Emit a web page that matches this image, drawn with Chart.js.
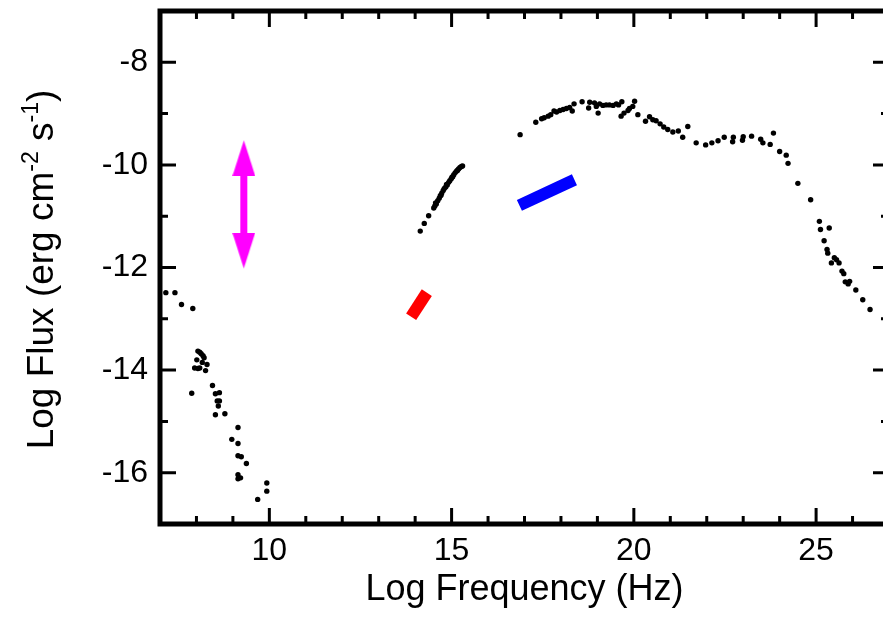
<!DOCTYPE html>
<html>
<head>
<meta charset="utf-8">
<script src="https://cdn.jsdelivr.net/npm/chart.js@4.4.1/dist/chart.umd.min.js"></script>
<style>
  html, body { margin: 0; padding: 0; background: #fff; overflow: hidden; }
  #wrap { width: 900px; height: 642px; position: relative; }
</style>
</head>
<body>
<div id="wrap"><canvas id="sed"></canvas></div>
<script>
// radio / mm points (log nu, log flux)
const radioPts = [
  [7.16,-12.49],[7.41,-12.49],[7.59,-12.72],[7.90,-12.80],
  [8.04,-13.63],[8.09,-13.65],[8.13,-13.68],[8.18,-13.72],[8.21,-13.76],
  [8.01,-13.80],[8.16,-13.85],[8.29,-13.89],[7.95,-13.96],[8.04,-13.97],
  [8.09,-13.96],[8.25,-14.01],[7.87,-14.45],[8.44,-14.30],[8.52,-14.46],
  [8.63,-14.44],[8.57,-14.60],[8.63,-14.60],[8.60,-14.70],[8.52,-14.87],
  [8.78,-14.85],[9.14,-15.12],[8.97,-15.35],[9.14,-15.43],[9.14,-15.67],
  [9.23,-15.69],[9.37,-15.82],[9.14,-16.04],[9.14,-16.12],[9.21,-16.10],
  [9.93,-16.20],[9.93,-16.36],[9.68,-16.52]
];
// optical / UV
const opticalPts = [
  [14.14,-11.29],[14.25,-11.14],[14.37,-10.99],[14.51,-10.84],[14.54,-10.80],
  [14.58,-10.76],[14.62,-10.70],[14.66,-10.65],[14.69,-10.60],[14.73,-10.55],
  [14.77,-10.50],[14.80,-10.46],[14.84,-10.43],[14.88,-10.39],[14.92,-10.34],
  [14.95,-10.31],[14.99,-10.27],[15.03,-10.23],[15.06,-10.19],[15.10,-10.15],
  [15.14,-10.12],[15.19,-10.08],[15.23,-10.05],[15.27,-10.03],[15.30,-10.02],
  [14.56,-10.74],[14.71,-10.59],[14.86,-10.38],[15.01,-10.24],[15.16,-10.11]
];
// X-ray / gamma-ray
const highPts = [
  [16.88,-9.41],[17.31,-9.17],[17.47,-9.10],[17.54,-9.08],[17.65,-9.05],
  [17.72,-9.02],[17.81,-8.95],[17.88,-8.97],[17.97,-8.94],[18.06,-8.92],
  [18.15,-8.90],[18.24,-8.88],[18.31,-8.95],[18.36,-8.81],[18.58,-8.77],
  [18.76,-8.89],[18.79,-8.78],[18.92,-8.79],[18.97,-8.86],[19.02,-8.99],
  [19.06,-8.81],[19.15,-8.84],[19.24,-8.83],[19.33,-8.83],[19.43,-8.84],
  [19.52,-8.81],[19.58,-8.83],[19.67,-8.77],[19.65,-9.05],[19.73,-8.99],
  [19.84,-8.94],[19.88,-8.90],[19.97,-8.86],[20.02,-8.76],[20.11,-9.02],
  [20.32,-9.15],[20.43,-9.06],[20.52,-9.12],[20.61,-9.14],[20.72,-9.20],
  [20.82,-9.26],[20.93,-9.31],[21.07,-9.36],[21.22,-9.34],[21.34,-9.46],
  [21.48,-9.25],[21.71,-9.57],[21.97,-9.61],[22.14,-9.57],[22.31,-9.53],
  [22.48,-9.46],[22.71,-9.55],[22.73,-9.46],[22.98,-9.52],[23.00,-9.45],
  [23.23,-9.44],[23.48,-9.50],[23.54,-9.57],[23.74,-9.60],[23.83,-9.38],
  [24.00,-9.74],[24.18,-9.81],[24.23,-9.97],[24.50,-10.36],[24.85,-10.68],
  [25.09,-11.10],[25.12,-11.26],[25.36,-11.23],[25.22,-11.48],[25.30,-11.65],
  [25.32,-11.72],[25.42,-11.91],[25.50,-11.81],[25.56,-11.85],[25.63,-11.91],
  [25.71,-12.07],[25.76,-12.12],[25.80,-12.28],[25.88,-12.32],[25.92,-12.27],
  [26.09,-12.44],[26.28,-12.63],[26.48,-12.82]
];
// spectral slopes (start, end)
const irSlope = [[13.89,-12.96],[14.32,-12.49]];
const xraySlope = [[16.86,-10.79],[18.37,-10.29]];
// variability range arrow at log nu = 9.3
const arrowShaft = [[9.30,-10.15],[9.30,-11.38]];
const arrowTips = [[9.30,-9.52],[9.30,-12.02]];

const xTickLabels = [10, 15, 20, 25];
const yTickLabels = [-8, -10, -12, -14, -16];

const toXY = pts => pts.map(p => ({ x: p[0], y: p[1] }));
const FONT = "'Liberation Sans', Arial, sans-serif";

// arrow head image, tip sits at the image centre
function arrowHead(w, h, color) {
  const c = document.createElement("canvas");
  c.width = w; c.height = h * 2;
  const g = c.getContext("2d");
  g.fillStyle = color;
  g.beginPath();
  g.moveTo(w / 2, h);
  g.lineTo(w, h * 2);
  g.lineTo(0, h * 2);
  g.closePath();
  g.fill();
  return c;
}
const headImg = arrowHead(23, 36, "#ff00ff");

const frame = {
  id: "frame",
  afterDraw(chart) {
    const { ctx, chartArea: a, scales: { x, y } } = chart;
    ctx.save();
    ctx.strokeStyle = "#000";
    ctx.lineWidth = 3;
    ctx.beginPath();
    x.ticks.forEach(t => {
      const px = x.getPixelForValue(t.value);
      const len = xTickLabels.includes(t.value) ? 16 : 8;
      ctx.moveTo(px, a.bottom); ctx.lineTo(px, a.bottom - len);
      ctx.moveTo(px, a.top); ctx.lineTo(px, a.top + len);
    });
    y.ticks.forEach(t => {
      const py = y.getPixelForValue(t.value);
      const len = yTickLabels.includes(t.value) ? 16 : 8;
      ctx.moveTo(a.left, py); ctx.lineTo(a.left + len, py);
      ctx.moveTo(a.right, py); ctx.lineTo(a.right - len, py);
    });
    ctx.stroke();
    ctx.lineWidth = 5;
    ctx.strokeRect(a.left, a.top, a.right - a.left, a.bottom - a.top);

    // y axis title with superscripts
    const parts = [
      ["Log Flux (erg cm", false], ["-2", true], [" s", false], ["-1", true], [")", false]
    ];
    const big = "37px " + FONT, small = "23px " + FONT;
    let total = 0;
    parts.forEach(([s, sup]) => { ctx.font = sup ? small : big; total += ctx.measureText(s).width; });
    ctx.translate(53, (a.top + a.bottom) / 2 + 2);
    ctx.rotate(-Math.PI / 2);
    ctx.fillStyle = "#000";
    ctx.textBaseline = "alphabetic";
    let cx = -total / 2;
    parts.forEach(([s, sup]) => {
      ctx.font = sup ? small : big;
      ctx.fillText(s, cx, sup ? -15 : 0);
      cx += ctx.measureText(s).width;
    });
    ctx.restore();
  }
};

const dot = { showLine: false, pointRadius: 2.7, pointBorderWidth: 0,
              pointBackgroundColor: "#000", backgroundColor: "#000" };

new Chart(document.getElementById("sed"), {
  type: "scatter",
  data: {
    datasets: [
      { label: "radio", data: toXY(radioPts), ...dot },
      { label: "optical", data: toXY(opticalPts), ...dot },
      { label: "high", data: toXY(highPts), ...dot },
      { label: "ir slope", data: toXY(irSlope), showLine: true, borderColor: "#ff0000",
        borderWidth: 12, borderCapStyle: "butt", pointRadius: 0 },
      { label: "x slope", data: toXY(xraySlope), showLine: true, borderColor: "#0000ff",
        borderWidth: 12, borderCapStyle: "butt", pointRadius: 0 },
      { label: "arrow", data: toXY(arrowShaft), showLine: true, borderColor: "#ff00ff",
        borderWidth: 7, borderCapStyle: "butt", pointRadius: 0 },
      { label: "arrow heads", data: toXY(arrowTips), showLine: false,
        pointStyle: headImg, pointRotation: [0, 180], pointRadius: 10 }
    ]
  },
  options: {
    responsive: true,
    maintainAspectRatio: false,
    animation: false,
    layout: { padding: { top: 10, right: 9, left: 0, bottom: 0 } },
    plugins: { legend: { display: false }, tooltip: { enabled: false } },
    scales: {
      x: {
        type: "linear", min: 7, max: 27,
        grid: { display: false, drawTicks: false },
        border: { display: false },
        ticks: {
          stepSize: 1, autoSkip: false, maxRotation: 0, padding: 8,
          color: "#000", font: { family: FONT, size: 32 },
          callback: v => xTickLabels.includes(v) ? String(v) : ""
        },
        title: { display: true, text: "Log Frequency (Hz)", color: "#000",
                 font: { family: FONT, size: 36 }, padding: { top: 0, bottom: 30 } },
        afterFit: s => { s.height = 118; s.paddingLeft = 0; s.paddingRight = 0; }
      },
      y: {
        type: "linear", min: -17, max: -7,
        grid: { display: false, drawTicks: false },
        border: { display: false },
        ticks: {
          stepSize: 1, autoSkip: false, padding: 12,
          color: "#000", font: { family: FONT, size: 32 },
          callback: v => yTickLabels.includes(v) ? String(v) : ""
        },
        afterFit: s => { s.width = 160; s.paddingTop = 0; s.paddingBottom = 0; }
      }
    }
  },
  plugins: [frame]
});
</script>
</body>
</html>
